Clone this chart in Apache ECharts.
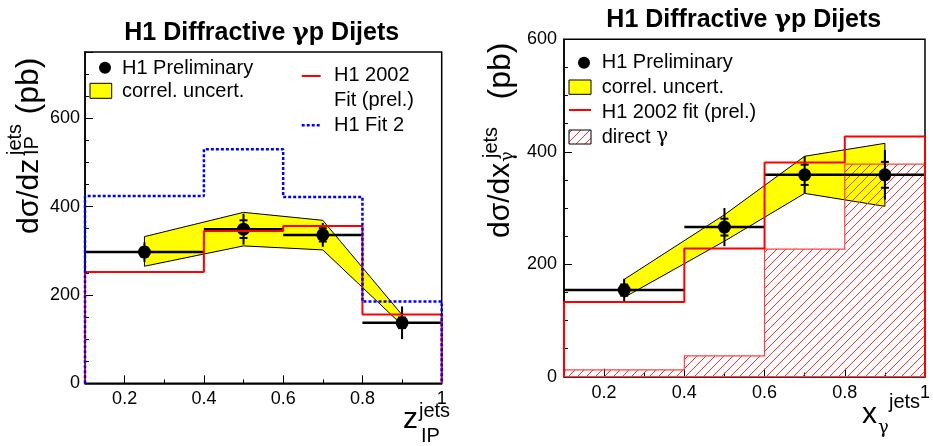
<!DOCTYPE html>
<html>
<head>
<meta charset="utf-8">
<script src="https://cdn.jsdelivr.net/npm/echarts@6/dist/echarts.min.js"></script>
<style>
  html, body { margin: 0; padding: 0; background: #fff; }
  #chart { width: 933px; height: 446px; }
</style>
</head>
<body>
<div id="chart"></div>
<script>
// bin edges and centres, same for both panels
const binEdges = [0.1, 0.4, 0.6, 0.8, 1.0];
const binCentres = [0.25, 0.5, 0.7, 0.9];

// left panel: dsigma/dz_IP (pb)
const zpomData = [297, 349, 336, 137];
const zpomStat = [10, 20, 15, 12];
const zpomTot = [22, 35, 27, 37];
const zpomBandUp = [332, 387, 369, 155];
const zpomBandLo = [265, 311, 302, 132];
const zpomFit2002 = [252, 345, 356, 156];
const zpomFit2 = [424, 530, 422, 185];

// right panel: dsigma/dx_gamma (pb)
const xgamData = [154, 266, 359, 359];
const xgamStat = [10, 15, 18, 23];
const xgamTot = [20, 34, 33, 44];
const xgamBandUp = [173, 288, 392, 415];
const xgamBandLo = [141, 241, 326, 303];
const xgamFit2002 = [133, 228, 381, 427];
const xgamDirect = [12, 37, 227, 378];

const FONT = '"Liberation Sans", Arial, Helvetica, sans-serif';
const GREEK = '"DejaVu Serif", serif';

// histogram outline: down to 0 at both ends
function histPath(edges, vals) {
  const pts = [[edges[0], 0]];
  vals.forEach(function (v, i) {
    pts.push([edges[i], v]);
    pts.push([edges[i + 1], v]);
  });
  pts.push([edges[edges.length - 1], 0]);
  return pts;
}

function hatchCanvas() {
  const c = document.createElement('canvas');
  c.width = 9;
  c.height = 9;
  const g = c.getContext('2d');
  g.strokeStyle = '#ff3030';
  g.lineWidth = 1;
  g.beginPath();
  g.moveTo(-1, 10); g.lineTo(10, -1);
  g.moveTo(-1, 1); g.lineTo(1, -1);
  g.moveTo(8, 10); g.lineTo(10, 8);
  g.stroke();
  return c;
}
const hatch = hatchCanvas();

function bandItem(xs, up, lo) {
  return function (params, api) {
    if (params.dataIndex !== 0) return null;
    const pts = [];
    xs.forEach(function (x, i) { pts.push(api.coord([x, up[i]])); });
    for (let i = xs.length - 1; i >= 0; i--) pts.push(api.coord([xs[i], lo[i]]));
    return {
      type: 'polygon',
      shape: { points: pts },
      style: { fill: '#ffff00', stroke: '#000', lineWidth: 1 }
    };
  };
}

function hatchItem(edges, vals) {
  return function (params, api) {
    if (params.dataIndex !== 0) return null;
    const pts = histPath(edges, vals).map(function (p) { return api.coord(p); });
    return {
      type: 'polygon',
      shape: { points: pts },
      style: { fill: { image: hatch, repeat: 'repeat' }, stroke: '#ff4040', lineWidth: 1.2 }
    };
  };
}

function pointItem(params, api) {
  const x = api.value(0), y = api.value(1);
  const lo = api.value(2), hi = api.value(3);
  const st = api.value(4), tot = api.value(5);
  const c = api.coord([x, y]);
  const a = api.coord([lo, y]), b = api.coord([hi, y]);
  const tu = api.coord([x, y + tot]), td = api.coord([x, y - tot]);
  const su = api.coord([x, y + st]), sd = api.coord([x, y - st]);
  const ln = { stroke: '#000', lineWidth: 2 };
  return {
    type: 'group',
    children: [
      { type: 'line', shape: { x1: a[0], y1: a[1], x2: b[0], y2: b[1] }, style: { stroke: '#000', lineWidth: 2.5 } },
      { type: 'line', shape: { x1: c[0], y1: tu[1], x2: c[0], y2: td[1] }, style: ln },
      { type: 'line', shape: { x1: c[0] - 4, y1: su[1], x2: c[0] + 4, y2: su[1] }, style: ln },
      { type: 'line', shape: { x1: c[0] - 4, y1: sd[1], x2: c[0] + 4, y2: sd[1] }, style: ln },
      { type: 'circle', shape: { cx: c[0], cy: c[1], r: 6.5 }, style: { fill: '#000' } }
    ]
  };
}

function pointData(vals, stat, tot) {
  return binCentres.map(function (x, i) {
    return [x, vals[i], binEdges[i], binEdges[i + 1], stat[i], tot[i]];
  });
}

function bandData(up, lo) {
  return binCentres.map(function (x, i) { return [x, up[i], lo[i]]; });
}

// axes: a minor-tick axis with labels and a major-tick axis on top of it
function xAxes(grid) {
  return [{
    gridIndex: grid, type: 'value', position: 'bottom', min: 0.1, max: 1, interval: 0.1,
    axisLine: { onZero: false, lineStyle: { color: '#000', width: 1.5 } },
    axisTick: { inside: true, length: 4, lineStyle: { color: '#000', width: 1 } },
    axisLabel: {
      margin: 7, color: '#000', fontSize: 18, fontFamily: FONT,
      formatter: function (v) {
        const r = Math.round(v * 10);
        if (r % 2 !== 0) return '';
        return r === 10 ? '1' : (r / 10).toFixed(1);
      }
    },
    splitLine: { show: false }
  }, {
    gridIndex: grid, type: 'value', position: 'bottom', min: 0.1, max: 1,
    minInterval: 0.2, maxInterval: 0.2,
    axisLine: { show: false, onZero: false },
    axisTick: { inside: true, length: 8, lineStyle: { color: '#000', width: 1 } },
    axisLabel: { show: false },
    splitLine: { show: false }
  }];
}

function yAxes(grid, max, margin) {
  return [{
    gridIndex: grid, type: 'value', position: 'left', min: 0, max: max, interval: 50,
    axisLine: { show: true, onZero: false, lineStyle: { color: '#000', width: 1.5 } },
    axisTick: { show: true, inside: true, length: 4, lineStyle: { color: '#000', width: 1 } },
    axisLabel: {
      margin: margin, color: '#000', fontSize: 18, fontFamily: FONT,
      formatter: function (v) { return v % 200 === 0 ? String(v) : ''; }
    },
    splitLine: { show: false }
  }, {
    gridIndex: grid, type: 'value', position: 'left', min: 0, max: max, interval: 200,
    axisLine: { show: false, onZero: false },
    axisTick: { show: true, inside: true, length: 8, lineStyle: { color: '#000', width: 1 } },
    axisLabel: { show: false },
    splitLine: { show: false }
  }];
}

// text with optional {g|γ} pieces set in a greek-friendly font
function txt(x, y, s, size, extra) {
  const weight = (extra && extra.fontWeight) || 'normal';
  const el = {
    type: 'text', x: x, y: y,
    style: {
      text: s, fontSize: size, fontFamily: FONT, fontWeight: weight, fill: '#000',
      align: 'left', verticalAlign: 'middle',
      rich: {
        t: { fontSize: size, fontFamily: FONT, fontWeight: weight, fill: '#000' },
        g: { fontSize: size, fontFamily: GREEK, fontWeight: weight, fill: '#000' }
      }
    }
  };
  if (extra) Object.assign(el.style, extra);
  return el;
}

const dotLeg = function (cx, cy) {
  return { type: 'circle', shape: { cx: cx, cy: cy, r: 6 }, style: { fill: '#000' } };
};
const boxLeg = function (x, y, w, h, fill) {
  return { type: 'rect', shape: { x: x, y: y, width: w, height: h }, style: { fill: fill, stroke: '#000', lineWidth: 1 } };
};
const lineLeg = function (x1, x2, y, color, dash) {
  return {
    type: 'line', shape: { x1: x1, y1: y, x2: x2, y2: y },
    style: { stroke: color, lineWidth: dash ? 2.5 : 2, lineDash: dash || null }
  };
};

const titleText = '{t|H1 Diffractive }{g|γ}{t|p Dijets}';

const graphics = [
  // titles
  txt(261.7, 33.5, titleText, 25, { fontWeight: 'bold', align: 'center' }),
  txt(743.8, 20, titleText, 25, { fontWeight: 'bold', align: 'center' }),

  // left legend
  dotLeg(105, 67.7),
  txt(122, 68, 'H1 Preliminary', 20),
  boxLeg(90, 83.3, 21.7, 15, '#ffff00'),
  txt(122, 91, 'correl. uncert.', 20),
  lineLeg(301.7, 320.7, 76, '#ff0000'),
  txt(334, 75, 'H1 2002', 20),
  txt(334, 100, 'Fit (prel.)', 20),
  lineLeg(301.7, 320.7, 125.3, '#0000ff', [3, 2]),
  txt(334, 125, 'H1 Fit 2', 20),

  // right legend
  dotLeg(584, 62.7),
  txt(601.7, 62, 'H1 Preliminary', 20),
  boxLeg(569, 80, 22, 14.3, '#ffff00'),
  txt(601.7, 87.5, 'correl. uncert.', 20),
  lineLeg(569, 591, 110, '#ff0000'),
  txt(601.7, 112, 'H1 2002 fit (prel.)', 20),
  boxLeg(569, 130, 22, 14, { image: hatch, repeat: 'repeat' }),
  txt(601.7, 137, '{t|direct }{g|γ}', 20),

  // left y title (rotated: local x = -screenY, local y = screenX)
  {
    type: 'group', x: 0, y: 0, rotation: Math.PI / 2,
    children: [
      txt(-234, 29.5, 'dσ/dz', 30),
      txt(-155, 15.7, 'jets', 20),
      txt(-155, 32.3, 'IP', 20),
      txt(-86, 29.5, '(pb)', 32, { align: 'center' })
    ]
  },
  // right y title
  {
    type: 'group', x: 0, y: 0, rotation: Math.PI / 2,
    children: [
      txt(-238, 501, 'dσ/dx', 30),
      txt(-158, 491, 'jets', 20),
      txt(-162, 508, '{g|γ}', 18),
      txt(-71, 501, '(pb)', 32, { align: 'center' })
    ]
  },

  // x titles
  txt(403, 419.5, 'z', 30),
  txt(419, 411, 'jets', 20),
  txt(421, 436, 'IP', 20),
  txt(862, 414.5, 'x', 30),
  txt(889, 402, 'jets', 20),
  txt(878, 428, '{g|γ}', 18)
];

const chart = echarts.init(document.getElementById('chart'));

chart.setOption({
  animation: false,
  backgroundColor: '#fff',
  grid: [
    { left: 85, top: 52, width: 356.7, height: 331.3, show: true, borderColor: '#000', borderWidth: 1.5, backgroundColor: 'transparent' },
    { left: 564, top: 39.3, width: 362.7, height: 337.4, show: true, borderColor: '#000', borderWidth: 1.5, backgroundColor: 'transparent' }
  ],
  xAxis: xAxes(0).concat(xAxes(1)),
  yAxis: yAxes(0, 750, 5).concat(yAxes(1, 600, 7)),
  graphic: graphics,
  series: [
    // left panel
    {
      type: 'custom', xAxisIndex: 0, yAxisIndex: 0,
      renderItem: bandItem(binCentres, zpomBandUp, zpomBandLo),
      data: bandData(zpomBandUp, zpomBandLo)
    },
    {
      type: 'line', xAxisIndex: 0, yAxisIndex: 0, showSymbol: false, symbol: 'none',
      data: histPath(binEdges, zpomFit2002),
      lineStyle: { color: '#ff0000', width: 2 }
    },
    {
      type: 'line', xAxisIndex: 0, yAxisIndex: 0, showSymbol: false, symbol: 'none',
      data: histPath(binEdges, zpomFit2),
      lineStyle: { color: '#0000ff', width: 2.5, type: [3, 2] }
    },
    {
      type: 'custom', xAxisIndex: 0, yAxisIndex: 0,
      renderItem: pointItem,
      data: pointData(zpomData, zpomStat, zpomTot)
    },

    // right panel
    {
      type: 'custom', xAxisIndex: 2, yAxisIndex: 2,
      renderItem: bandItem(binCentres, xgamBandUp, xgamBandLo),
      data: bandData(xgamBandUp, xgamBandLo)
    },
    {
      type: 'custom', xAxisIndex: 2, yAxisIndex: 2,
      renderItem: hatchItem(binEdges, xgamDirect),
      data: binCentres.map(function (x, i) { return [x, xgamDirect[i]]; })
    },
    {
      type: 'line', xAxisIndex: 2, yAxisIndex: 2, showSymbol: false, symbol: 'none',
      data: histPath(binEdges, xgamFit2002),
      lineStyle: { color: '#ff0000', width: 2 }
    },
    {
      type: 'custom', xAxisIndex: 2, yAxisIndex: 2,
      renderItem: pointItem,
      data: pointData(xgamData, xgamStat, xgamTot)
    }
  ]
});
</script>
</body>
</html>
